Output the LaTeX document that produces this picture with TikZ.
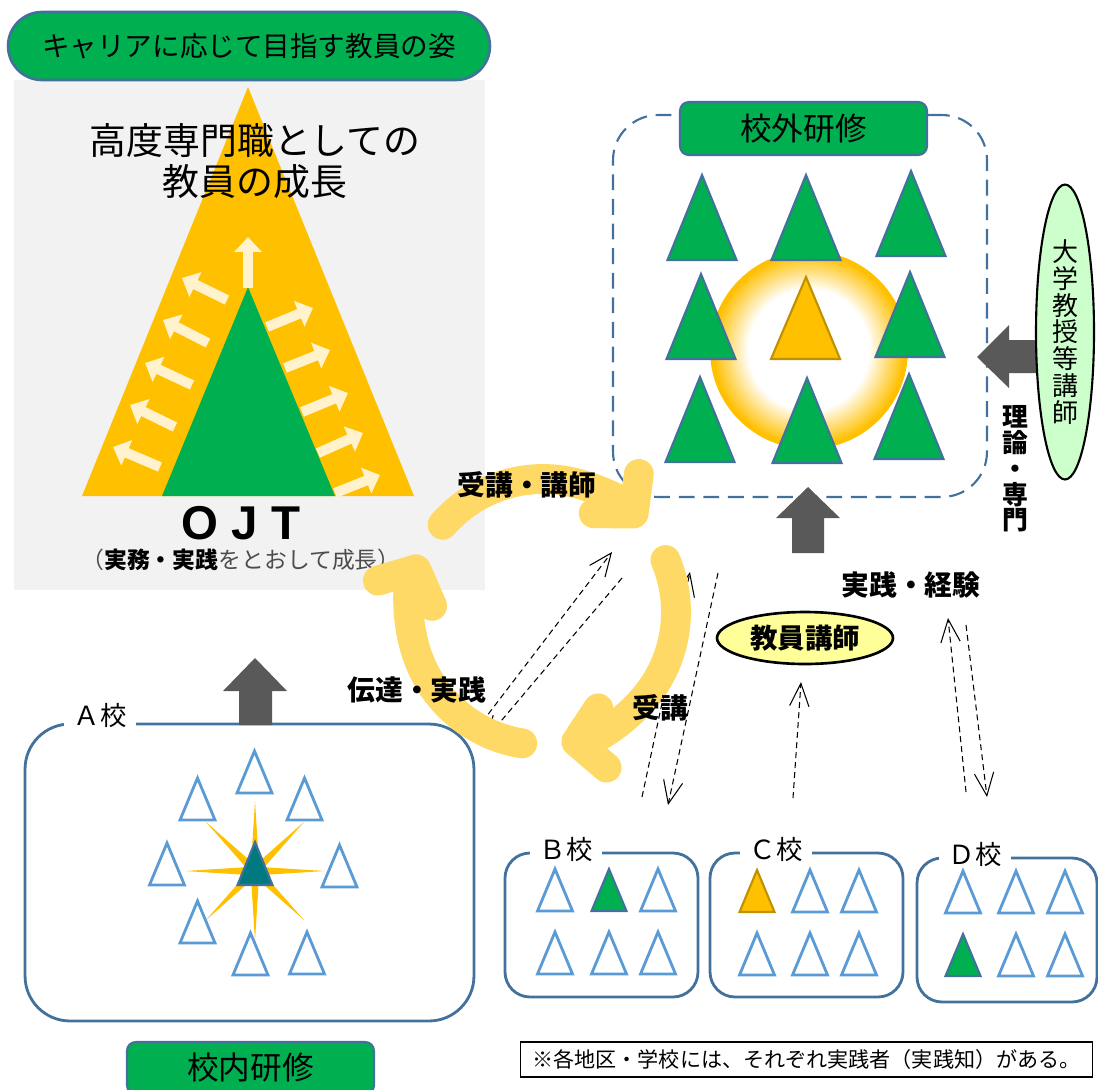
\documentclass[tikz,border=0pt]{standalone}
\usepackage{fontspec}
\setmainfont{Noto Sans CJK JP}
\newfontfamily\latinfont{Liberation Sans}
\usepackage{tikz}
\usetikzlibrary{arrows.meta,shapes.geometric}

\definecolor{jgreen}{HTML}{00B050}
\definecolor{frame}{HTML}{41719C}
\definecolor{gold}{HTML}{FFC000}
\definecolor{cream}{HTML}{FFF2CC}
\definecolor{panel}{HTML}{F2F2F2}
\definecolor{arrgray}{HTML}{595959}
\definecolor{cycyellow}{HTML}{FFD966}
\definecolor{skyline}{HTML}{5B9BD5}
\definecolor{teal2}{HTML}{007A80}
\definecolor{darkgold}{HTML}{BF9000}
\definecolor{mint}{HTML}{CCFFCC}
\definecolor{lemon}{HTML}{FFFF99}

\begin{document}
\begin{tikzpicture}[x=0.02cm,y=-0.02cm,
    greenbox/.style={draw=frame,line width=1.2pt,fill=jgreen,rounded corners=5pt,inner sep=0pt,font=\fontsize{18}{20}\selectfont},
    bold label/.style={inner sep=0pt,font=\bfseries\fontsize{15.8}{18}\selectfont},
    school/.style={draw=frame,line width=1.6pt,inner sep=0pt},
    schooltag/.style={fill=white,inner xsep=5.5pt,inner ysep=1pt,font=\fontsize{15}{17}\selectfont},
    opentri/.style={draw=skyline,line width=1.6pt,fill=white},
    filltri/.style={draw=frame,line width=1.2pt,fill=jgreen},
    link/.style={line width=0.6pt,dash pattern=on 3.4pt off 2.3pt,-{Straight Barb[length=13pt,width=11pt]}},
    cycle arrow/.style={draw=cycyellow,line width=17pt,line cap=round,-{Straight Barb[length=15pt,width=34pt,round]}},
    growth arrow/.style={draw=cream,line width=5.7pt,-{Triangle[length=8.5pt,width=15.3pt]}}]
    \useasboundingbox (0,0) rectangle (1098,1089);
    \clip (0,0) rectangle (1098,1089);

    \fill[panel] (14,80) rectangle (485,590);
    \fill[gold] (248,87) -- (414,496) -- (82,496) -- cycle;
    \fill[jgreen] (248,287) -- (335,496) -- (162,496) -- cycle;
    \draw[growth arrow] (248,288) -- (248,237);
    \foreach \xa/\ya/\xb/\yb in {227/300/182/278, 208/343/163/320, 192/385/145/363, 175/427/130/405, 160/467/113/447,
                                 267/327/313/308, 285/368/330/350, 302/412/348/393, 318/453/363/433, 335/493/380/475}
        \draw[growth arrow] (\xa,\ya) -- (\xb,\yb);
    \node[inner sep=0pt,align=center,font=\fontsize{21}{23.8}\selectfont] (Growth) at (255,161) {高度専門職としての\\教員の成長};
    \node[inner sep=0pt,font=\latinfont\bfseries\fontsize{27}{30}\selectfont] (OJT) at (241,523) {O J T};
    \node[inner sep=0pt,font=\fontsize{13}{15}\selectfont] (Work) at (241,560)
        {{\color{black!70}（}\textbf{実務・実践}{\color{black!70}をとおして成長）}};

    \node[draw=frame,line width=1.5pt,fill=jgreen,rounded corners=0.68cm,minimum width=9.64cm,minimum height=1.36cm,
        inner sep=0pt,font=\fontsize{15.7}{18}\selectfont] (Title) at (249,46) {キャリアに応じて目指す教員の姿};

    \node[draw=frame,line width=1.2pt,dash pattern=on 9pt off 5pt,rounded corners=0.9cm,
        minimum width=7.48cm,minimum height=7.64cm] (Outside) at (800,306) {};
    \fill[gold] (809,350) circle [radius=99];
    \foreach \k [evaluate=\k as \rr using 97-1.8*\k, evaluate=\k as \pc using 100-5*\k] in {1,...,20}
        \fill[gold!\pc!white] (809,350) circle [radius=\rr];
    \foreach \x/\y in {702/260, 806/260, 911/256, 701/359, 910/357, 700/462, 807/463, 909/459}
        \draw[filltri] (\x-34.5,\y) -- (\x+34.5,\y) -- (\x,\y-85) -- cycle;
    \draw[draw=darkgold,line width=1.2pt,fill=gold] (771,359) -- (840,359) -- (806,277) -- cycle;
    \node[greenbox,minimum width=4.94cm,minimum height=1.06cm] (OutsideTitle) at (803.5,128.5) {校外研修};

    \fill[arrgray] (1037,340) -- (1009,340) -- (1009,325) -- (977,357) -- (1009,388) -- (1009,373) -- (1037,373) -- cycle;
    \node[draw,ellipse,line width=1.2pt,fill=mint,minimum width=1.16cm,minimum height=5.9cm,inner sep=0pt,
        align=center,font=\fontsize{14.8}{15.3}\selectfont] (Univ) at (1065,332) {大\\学\\教\\授\\等\\講\\師};
    \node[bold label,align=center,font=\bfseries\fontsize{14.7}{14.7}\selectfont] (Theory) at (1015,469) {理\\論\\・\\専\\門};

    \fill[arrgray] (792,553) -- (792,518) -- (776,518) -- (808,487) -- (840,518) -- (824,518) -- (824,553) -- cycle;
    \node[bold label] (Experience) at (911,585) {実践・経験};
    \node[draw,ellipse,line width=1.5pt,fill=lemon,minimum width=3.52cm,minimum height=1.04cm,inner sep=0pt,
        font=\bfseries\fontsize{15.6}{18}\selectfont] (Lecturer) at (805,638) {教員講師};

    \node[school,rounded corners=0.9cm,minimum width=8.98cm,minimum height=5.94cm] (SchoolA) at (249.5,872.5) {};
    \node[schooltag] (TagA) at (100,716) {Ａ校};
    \fill[arrgray] (239,725) -- (239,691) -- (223,691) -- (255,658) -- (287,691) -- (272,691) -- (272,725) -- cycle;
    \node[star,star points=8,star point ratio=7,fill=gold,minimum size=2.8cm,inner sep=0pt] (Star) at (255,871) {};
    \draw[draw=frame,line width=1.2pt,fill=teal2] (237.5,885) -- (272.5,885) -- (255,842) -- cycle;
    \foreach \x/\y in {254.5/793, 197.5/820, 304.5/820, 167/885, 339.5/887, 197.5/943, 250.5/975, 307/974}
        \draw[opentri] (\x-17.5,\y) -- (\x+17.5,\y) -- (\x,\y-42) -- cycle;
    \node[greenbox,minimum width=4.94cm,minimum height=1.04cm] (InsideTitle) at (250.5,1068) {校内研修};

    \node[school,rounded corners=0.5cm,minimum width=3.86cm,minimum height=2.88cm] (SchoolB) at (601.5,925) {};
    \node[school,rounded corners=0.5cm,minimum width=3.86cm,minimum height=2.88cm] (SchoolC) at (806.5,925) {};
    \node[school,rounded corners=0.5cm,minimum width=3.6cm,minimum height=2.88cm] (SchoolD) at (1007,930) {};
    \node[schooltag] (TagB) at (566,850) {Ｂ校};
    \node[schooltag] (TagC) at (776,850) {Ｃ校};
    \node[schooltag] (TagD) at (975,855) {Ｄ校};
    \foreach \x/\y in {555/911, 658/911, 555/974, 609/974, 658/974,
                       810/912, 859/912, 757/975, 810/975, 859/975,
                       963/913, 1016/913, 1065/913, 1016/976, 1065/976}
        \draw[opentri] (\x-17.5,\y) -- (\x+17.5,\y) -- (\x,\y-42) -- cycle;
    \draw[filltri] (591.5,911) -- (626.5,911) -- (609,869) -- cycle;
    \draw[draw=darkgold,line width=1.2pt,fill=gold] (739.5,912) -- (774.5,912) -- (757,870) -- cycle;
    \draw[filltri] (945.5,976) -- (980.5,976) -- (963,934) -- cycle;

    \coordinate (L1a) at (470,738); \coordinate (L1b) at (612,552);
    \coordinate (L2a) at (622,578); \coordinate (L2b) at (485,740);
    \coordinate (L3a) at (642,797); \coordinate (L3b) at (690,572);
    \coordinate (L4a) at (718,573); \coordinate (L4b) at (668,805);
    \coordinate (L5a) at (793,798); \coordinate (L5b) at (801,682);
    \coordinate (L6a) at (966,792); \coordinate (L6b) at (948,618);
    \coordinate (L7a) at (966,625); \coordinate (L7b) at (987,797);
    \foreach \n in {1,...,7}
        \draw[link] (L\n a) -- (L\n b);

    \coordinate (Hub) at (543,612);
    \draw[cycle arrow] ([shift={(-139:133)}]Hub) arc [start angle=-139, end angle=-41, radius=133];
    \draw[cycle arrow] ([shift={(-23:133)}]Hub) arc [start angle=-23, end angle=82, radius=133];
    \draw[cycle arrow] ([shift={(99:133)}]Hub) arc [start angle=99, end angle=205, radius=133];
    \node[bold label] (Attend) at (527,485) {受講・講師};
    \node[bold label] (Transfer) at (417,690) {伝達・実践};
    \node[bold label] (AttendOnly) at (660,708) {受講};

    \node[draw,line width=0.6pt,minimum width=11.46cm,minimum height=0.7cm,inner sep=0pt,
        font=\fontsize{12}{14}\selectfont] (Note) at (806.5,1059.5) {※各地区・学校には、それぞれ実践者（実践知）がある。};
\end{tikzpicture}
\end{document}
